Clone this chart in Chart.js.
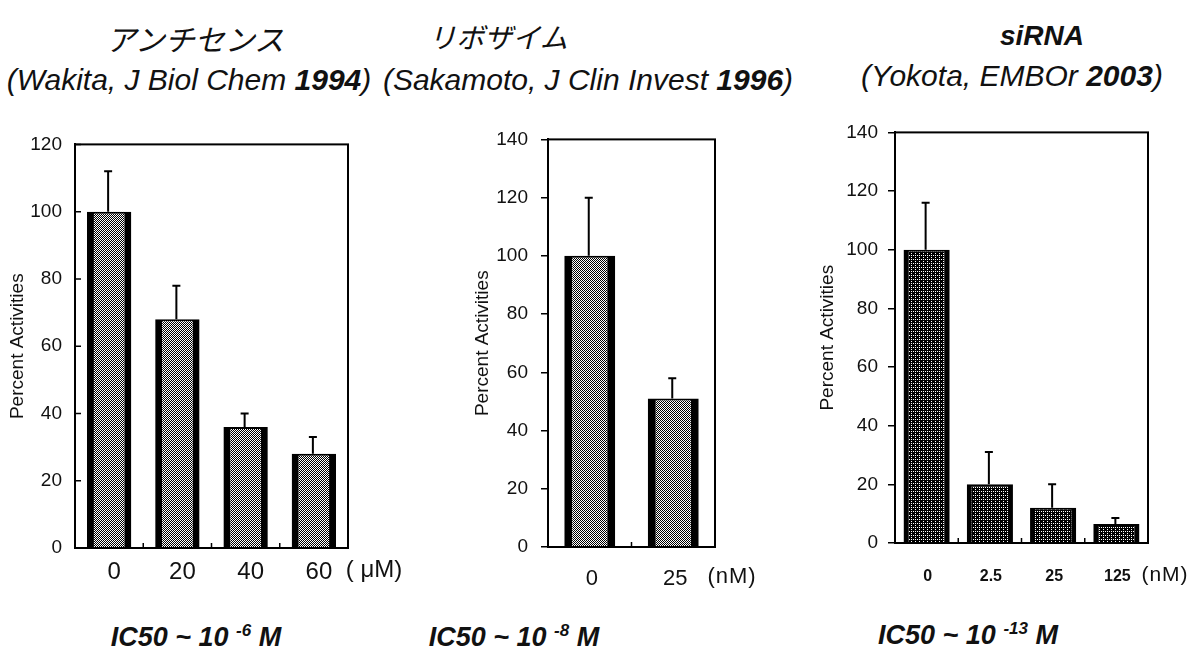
<!DOCTYPE html>
<html>
<head>
<meta charset="utf-8">
<script src="https://cdn.jsdelivr.net/npm/chart.js@4.4.1/dist/chart.umd.min.js"></script>
<style>
  body { margin: 0; background: #fff; width: 1204px; height: 667px; position: relative; overflow: hidden;
         font-family: "Liberation Sans", Arial, sans-serif; color: #111; }
  .t { position: absolute; transform: translate(-50%, -50%); white-space: nowrap; line-height: 1; }
  .jp { font-family: "Noto Sans CJK JP", sans-serif; font-style: italic; font-size: 30px; }
  .sirna { font-style: italic; font-weight: bold; font-size: 28px; }
  .ref { font-style: italic; font-size: 30px; }
  .ic { font-style: italic; font-weight: bold; font-size: 27px; }
  .ic sup { font-size: 17px; vertical-align: 0; position: relative; top: -10px; }
  canvas { position: absolute; }
</style>
</head>
<body>

<div class="t jp" style="left:195px;top:38px">アンチセンス</div>
<div class="t jp" style="left:498px;top:36px;font-size:28px">リボザイム</div>
<div class="t sirna" style="left:1042px;top:36px">siRNA</div>

<div class="t ref" style="left:189px;top:80px">(Wakita, J Biol Chem <b>1994</b>)</div>
<div class="t ref" style="left:588px;top:80px">(Sakamoto, J Clin Invest <b>1996</b>)</div>
<div class="t ref" style="left:1012px;top:76px">(Yokota, EMBOr <b>2003</b>)</div>

<canvas id="antisense" width="410" height="480" style="left:0px;top:120px"></canvas>
<canvas id="ribozyme" width="300" height="480" style="left:460px;top:115px"></canvas>
<canvas id="sirna" width="399" height="480" style="left:805px;top:111px"></canvas>

<div class="t ic" style="left:196px;top:637px">IC50 ~ 10 <sup>-6</sup> M</div>
<div class="t ic" style="left:514px;top:637px">IC50 ~ 10 <sup>-8</sup> M</div>
<div class="t ic" style="left:968px;top:635px">IC50 ~ 10 <sup>-13</sup> M</div>

<script>
// data (percent activity, mean and error)
const antisenseDoses = ['0', '20', '40', '60'];
const antisenseValues = [100, 68, 36, 28];
const antisenseErrors = [12, 10, 4, 5];

const ribozymeDoses = ['0', '25'];
const ribozymeValues = [100, 51];
const ribozymeErrors = [20, 7];

const sirnaDoses = ['0', '2.5', '25', '125'];
const sirnaValues = [100, 20, 12, 6.5];
const sirnaErrors = [16, 11, 8, 2];

const FONT = '"Liberation Sans", Arial, sans-serif';

// ordered dither so the bars get a grainy grey like the scan
function dither(level) {
  const m = [0, 8, 2, 10, 12, 4, 14, 6, 3, 11, 1, 9, 15, 7, 13, 5];
  const c = document.createElement('canvas');
  c.width = c.height = 4;
  const g = c.getContext('2d');
  g.fillStyle = '#000';
  g.fillRect(0, 0, 4, 4);
  g.fillStyle = '#fff';
  m.forEach((v, i) => { if (v < level) g.fillRect(i % 4, Math.floor(i / 4), 1, 1); });
  return g.createPattern(c, 'repeat');
}

// error bars, box frame, inner ticks and the unit after the last dose
const frameAndErrors = {
  id: 'frameAndErrors',
  afterDatasetsDraw(chart) {
    const ctx = chart.ctx;
    const y = chart.scales.y;
    const ds = chart.data.datasets[0];
    chart.getDatasetMeta(0).data.forEach((bar, i) => {
      const top = y.getPixelForValue(ds.data[i] + ds.errors[i]);
      ctx.save();
      ctx.strokeStyle = '#000';
      ctx.lineWidth = 2;
      ctx.beginPath();
      ctx.moveTo(bar.x - 1, bar.y);
      ctx.lineTo(bar.x - 1, top);
      ctx.moveTo(bar.x - 5, top);
      ctx.lineTo(bar.x + 3, top);
      ctx.stroke();
      ctx.restore();
    });
  },
  afterDraw(chart, args, o) {
    const ctx = chart.ctx;
    const a = chart.chartArea;
    const x = chart.scales.x;
    const y = chart.scales.y;
    ctx.save();
    ctx.strokeStyle = '#000';
    ctx.lineWidth = 2;
    ctx.strokeRect(a.left, a.top, a.right - a.left, a.bottom - a.top);

    ctx.lineWidth = 1.5;
    ctx.beginPath();
    if (o.inward) {
      y.ticks.forEach(t => {
        const py = y.getPixelForValue(t.value);
        ctx.moveTo(a.left, py);
        ctx.lineTo(a.left + 6, py);
      });
    }
    for (let i = 1; i < x.ticks.length; i++) {
      const px = (x.getPixelForTick(i - 1) + x.getPixelForTick(i)) / 2;
      ctx.moveTo(px, a.bottom);
      ctx.lineTo(px, a.bottom - 5);
    }
    ctx.stroke();

    ctx.fillStyle = '#111';
    ctx.font = o.unitSize + 'px ' + FONT;
    ctx.letterSpacing = o.unitSpacing + 'px';
    ctx.textAlign = 'center';
    ctx.textBaseline = 'middle';
    ctx.fillText(o.unit, a.right + o.unitDx, a.bottom + o.unitDy);
    ctx.restore();
  }
};

function barChart(id, doses, values, errors, s) {
  return new Chart(document.getElementById(id).getContext('2d'), {
    type: 'bar',
    data: {
      labels: doses,
      datasets: [{
        data: values,
        errors: errors,
        backgroundColor: dither(s.light),
        borderColor: '#000',
        borderWidth: { left: s.edge, right: s.edge, top: 2, bottom: 0 },
        borderSkipped: false,
        barPercentage: s.barPct,
        categoryPercentage: 1
      }]
    },
    options: {
      responsive: false,
      animation: false,
      layout: { padding: { top: 20, right: s.padRight, left: 0, bottom: 0 } },
      plugins: {
        legend: { display: false },
        tooltip: { enabled: false },
        frameAndErrors: { unit: s.unit, unitDx: s.unitDx, unitDy: s.unitDy, unitSize: s.unitSize,
                          unitSpacing: s.unitSpacing, inward: s.inward }
      },
      scales: {
        x: {
          grid: { display: false, drawTicks: false },
          border: { color: '#000', width: 2 },
          ticks: { color: '#111', font: { family: FONT, size: s.xSize, weight: s.xWeight }, padding: s.xPad,
                   labelOffset: s.labelOffset, maxRotation: 0 },
          afterFit(scale) { scale.height = s.xHeight; }
        },
        y: {
          min: 0,
          max: s.yMax,
          ticks: { stepSize: 20, color: '#111', font: { family: FONT, size: 19 }, padding: s.yPad },
          grid: { drawOnChartArea: false, drawTicks: !s.inward, color: '#000', tickLength: 7, lineWidth: 1.5 },
          border: { color: '#000', width: 2 },
          title: { display: true, text: 'Percent Activities', color: '#111',
                   font: { family: FONT, size: 19 }, padding: { top: s.titlePad, bottom: 0 } },
          afterFit(scale) { scale.width = s.yWidth; }
        }
      }
    },
    plugins: [frameAndErrors]
  });
}

barChart('antisense', antisenseDoses, antisenseValues, antisenseErrors, {
  light: 8, edge: 7, barPct: 0.65, padRight: 62, yWidth: 75, xHeight: 52, yMax: 120,
  xSize: 24, xWeight: 'normal', xPad: 10, labelOffset: 5, titlePad: 6, yPad: 13, inward: true,
  unit: '( μM)', unitDx: 26, unitDy: 22, unitSize: 24, unitSpacing: 0
});

barChart('ribozyme', ribozymeDoses, ribozymeValues, ribozymeErrors, {
  light: 8, edge: 8, barPct: 0.61, padRight: 45, yWidth: 88, xHeight: 48, yMax: 140,
  xSize: 22, xWeight: 'normal', xPad: 19, labelOffset: 2, titlePad: 11, yPad: 13, inward: false,
  unit: '(nM)', unitDx: 17, unitDy: 30, unitSize: 22, unitSpacing: 1
});

barChart('sirna', sirnaDoses, sirnaValues, sirnaErrors, {
  light: 3, edge: 5, barPct: 0.73, padRight: 56, yWidth: 90, xHeight: 48, yMax: 140,
  xSize: 16, xWeight: 'bold', xPad: 24, labelOffset: 1, titlePad: 11, yPad: 10, inward: false,
  unit: '(nM)', unitDx: 17, unitDy: 32, unitSize: 21, unitSpacing: 1
});
</script>
</body>
</html>
